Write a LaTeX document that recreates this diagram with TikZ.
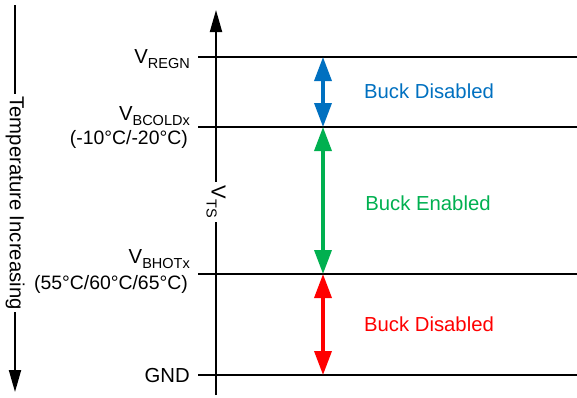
\documentclass[tikz,border=0pt]{standalone}
\usepackage{fontspec}
\setmainfont{Liberation Sans}
\usetikzlibrary{arrows.meta}
\definecolor{buckblue}{HTML}{0070C0}
\definecolor{buckgreen}{HTML}{00B050}
\definecolor{buckred}{HTML}{FF0000}
\newcommand{\vsub}[1]{V\raisebox{-5pt}{\fontsize{14.5}{14.5}\selectfont #1}}
\begin{document}
\begin{tikzpicture}[x=1pt,y=-1pt, every node/.style={font=\fontsize{20.3}{24}\selectfont,inner sep=0pt},
  level/.style={line width=1.5pt},
  lbl/.style={anchor=base east},
  temps/.style={lbl,font=\fontsize{19.4}{23}\selectfont},
  axis/.style={line width=2pt,-{Triangle[width=12pt,length=22pt]}},
  band/.style={line width=3.5pt,{Triangle[width=17pt,length=24pt]}-{Triangle[width=17pt,length=24pt]}}]
\useasboundingbox (0,0) rectangle (577,397);
\coordinate (regnL) at (198,57); \coordinate (regnR) at (577,57);
\coordinate (coldL) at (198,127); \coordinate (coldR) at (577,127);
\coordinate (hotL) at (198,274); \coordinate (hotR) at (577,274);
\coordinate (gndL) at (198,375); \coordinate (gndR) at (577,375);
\draw[level] (regnL) -- (regnR);
\draw[level] (coldL) -- (coldR);
\draw[level] (hotL) -- (hotR);
\draw[level] (gndL) -- (gndR);
\coordinate (tsB) at (216,395); \coordinate (tsT) at (216,10);
\draw[axis] (tsB) -- (tsT);
\node[fill=white,rotate=-90,inner xsep=4pt,inner ysep=3pt] (vts) at (216,202) {\vsub{TS}};
\coordinate (tempT) at (15,5); \coordinate (tempB) at (15,392);
\draw[axis] (tempT) -- (tempB);
\node[fill=white,rotate=-90,inner xsep=2pt,inner ysep=3pt] (temp) at (15,203) {Temperature Increasing};
\node[lbl] (regn) at (190,63) {\vsub{REGN}};
\node[lbl] (cold) at (190,120) {\vsub{BCOLDx}};
\node[temps] (coldt) at (188,144) {(-10°C/-20°C)};
\node[lbl] (hot) at (190,263) {\vsub{BHOTx}};
\node[temps] (hott) at (188,289) {(55°C/60°C/65°C)};
\node[lbl] (gnd) at (190,382) {GND};
\coordinate (regnA) at (323,57); \coordinate (coldA) at (323,127);
\coordinate (hotA) at (323,274); \coordinate (gndA) at (323,375);
\draw[band,buckblue] (regnA) -- (coldA);
\draw[band,buckgreen] (coldA) -- (hotA);
\draw[band,buckred] (hotA) -- (gndA);
\node[text=buckblue] (dis1) at (429,91) {Buck Disabled};
\node[text=buckgreen] (en) at (428,203) {Buck Enabled};
\node[text=buckred] (dis2) at (429,324) {Buck Disabled};
\end{tikzpicture}
\end{document}
